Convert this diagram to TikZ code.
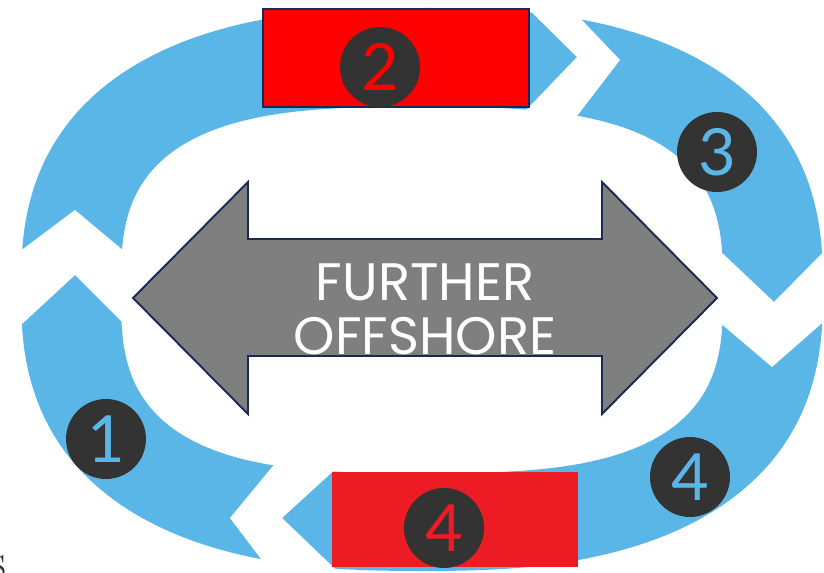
\documentclass[tikz,border=0pt]{standalone}
\usepackage{fontspec}
\newfontfamily\labelfont{Poppins}
\newfontfamily\digitfont{Lato}
\usetikzlibrary{calc}
\definecolor{ringblue}{HTML}{5AB6E6}
\definecolor{boxred}{HTML}{FF0000}
\definecolor{lowred}{HTML}{ED1C24}
\definecolor{discgray}{HTML}{333333}
\definecolor{navyline}{HTML}{1B2A55}
\definecolor{arrowgray}{HTML}{7F7F7F}

\begin{document}
\begin{tikzpicture}[x=0.02cm,y=-0.02cm,
    disc/.style={circle,fill=discgray,minimum size=1.6cm,inner sep=0pt,
      font=\digitfont\fontsize{37}{37}\selectfont},
    gap/.style={fill=white}]
    \useasboundingbox (0,0) rectangle (824,573);

    % Ring (two superellipses)
    \fill[ringblue,even odd rule]
      plot[domain=1:361,samples=180,variable=\t]
        ({422+401*sign(cos(\t))*(abs(cos(\t))+0.00001)^(2/2.5)},
         {289.5+281.5*sign(sin(\t))*(abs(sin(\t))+0.00001)^(2/2.5)}) -- cycle
      plot[domain=1:361,samples=180,variable=\t]
        ({422+301*sign(cos(\t))*(abs(cos(\t))+0.00001)^(2/3)},
         {290+183*sign(sin(\t))*(abs(sin(\t))+0.00001)^(2/3)}) -- cycle;

    % Gaps between the segments
    \fill[gap] (509,-10) -- (577,57) -- (509,128) -- (564,133) -- (620,60) -- (560,-3) -- cycle;
    \fill[gap] (701,233) -- (774,302) -- (845,230) -- (845,303) -- (772,367) -- (705,310) -- cycle;
    \fill[gap] (352,454) -- (282,518) -- (352,585) -- (283,588) -- (230,518) -- (282,455) -- cycle;
    \fill[gap] (-5,349) -- (75,275) -- (143,343) -- (143,267) -- (75,210) -- (-5,270) -- cycle;

    % Boxes
    \draw[navyline,fill=boxred,line width=1.1pt] (263,9) rectangle (529,107);
    \fill[lowred] (332,472) rectangle (578,567);

    % Double arrow
    \draw[navyline,fill=arrowgray,line width=1.1pt,line join=miter]
      (133,298) -- (248,182) -- (248,239) -- (602,239) -- (602,182) -- (717,298)
      -- (602,414) -- (602,356) -- (248,356) -- (248,414) -- cycle;
    \node[anchor=north,inner sep=0pt,align=center,text=white,
      font=\labelfont\fontsize{30}{31}\selectfont] (label) at (425,263) {FURTHER\\OFFSHORE};

    % Numbers
    \node[disc,text=ringblue] (one) at (106,439) {1};
    \node[disc,text=boxred] (two) at (380,67) {2};
    \node[disc,text=ringblue] (three) at (717,152) {3};
    \node[disc,text=ringblue] (fourright) at (690,477) {4};
    \node[disc,text=lowred] (fourlow) at (444,528) {4};

    \node[anchor=base east,inner sep=0pt,text=discgray,font=\fontsize{30}{30}\selectfont] (cut) at (7,578) {s};
\end{tikzpicture}
\end{document}
